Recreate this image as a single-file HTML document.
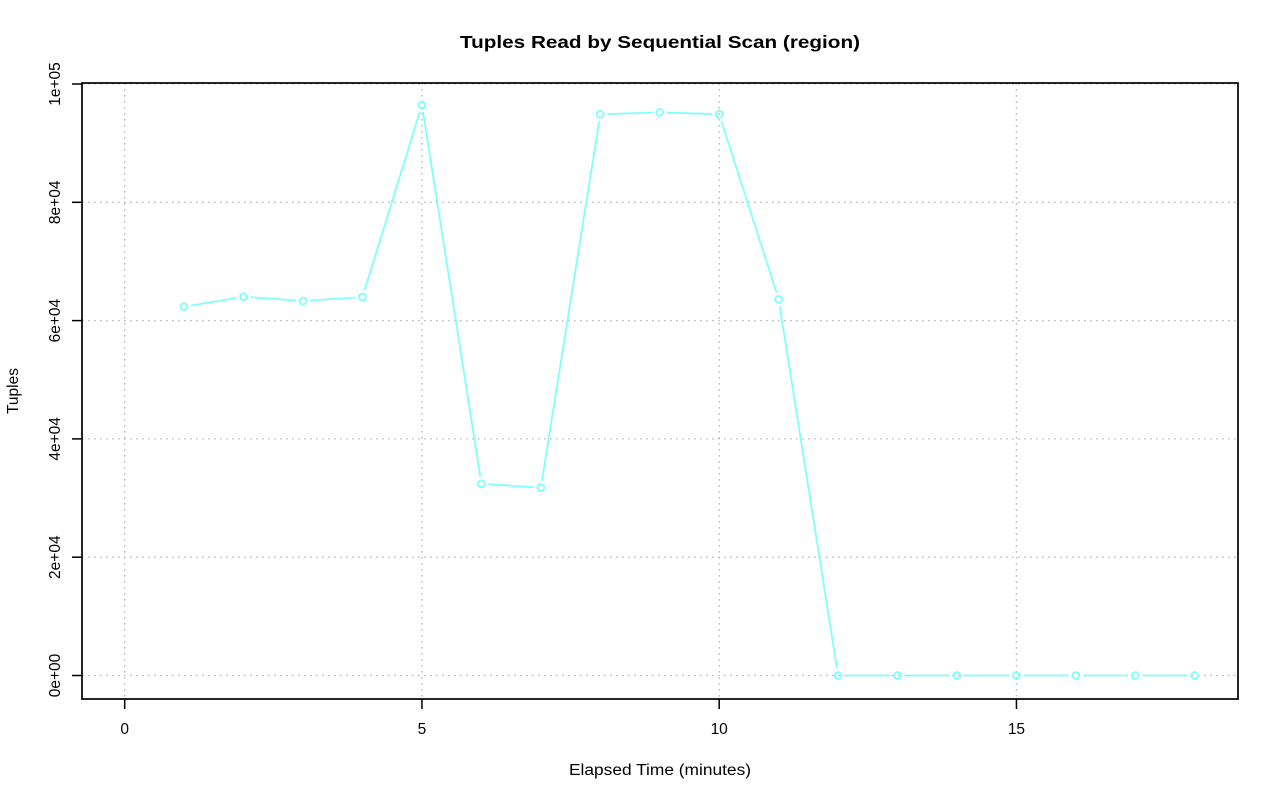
<!DOCTYPE html>
<html>
<head>
<meta charset="utf-8">
<style>
html,body{margin:0;padding:0;background:#fff;}
svg{display:block;}
text{font-family:"Liberation Sans",Arial,sans-serif;fill:#000;}
</style>
</head>
<body>
<svg width="1280" height="801" viewBox="0 0 1280 801" xmlns="http://www.w3.org/2000/svg">
<rect width="1280" height="801" fill="#fff"/>
<!-- title -->
<text x="660" y="48" text-anchor="middle" font-size="17.5" font-weight="bold" textLength="400" lengthAdjust="spacingAndGlyphs">Tuples Read by Sequential Scan (region)</text>

<!-- grid -->
<g stroke="#b8b8b8" stroke-width="1.3" stroke-dasharray="1.6 4.4" fill="none">
<line x1="124.7" y1="83" x2="124.7" y2="699"/>
<line x1="421.95" y1="83" x2="421.95" y2="699"/>
<line x1="719.2" y1="83" x2="719.2" y2="699"/>
<line x1="1016.45" y1="83" x2="1016.45" y2="699"/>
<line x1="82" y1="675.5" x2="1238" y2="675.5"/>
<line x1="82" y1="557.2" x2="1238" y2="557.2"/>
<line x1="82" y1="438.9" x2="1238" y2="438.9"/>
<line x1="82" y1="320.6" x2="1238" y2="320.6"/>
<line x1="82" y1="202.3" x2="1238" y2="202.3"/>
<line x1="82" y1="84" x2="1238" y2="84"/>
</g>

<!-- series lines -->
<g stroke="#80ffff" stroke-width="1.8" fill="none" stroke-linecap="butt">
<line x1="191.05" y1="305.54" x2="236.7" y2="297.86"/>
<line x1="250.58" y1="297.2" x2="296.07" y2="300.5"/>
<line x1="310.03" y1="300.53" x2="355.52" y2="297.47"/>
<line x1="364.57" y1="290.31" x2="419.88" y2="111.69"/>
<line x1="423.04" y1="111.92" x2="480.31" y2="476.78"/>
<line x1="488.38" y1="484.17" x2="533.87" y2="487.23"/>
<line x1="541.95" y1="480.79" x2="599.2" y2="121.21"/>
<line x1="607.3" y1="114.06" x2="652.75" y2="112.54"/>
<line x1="666.75" y1="112.54" x2="712.2" y2="114.06"/>
<line x1="721.34" y1="120.96" x2="776.51" y2="292.64"/>
<line x1="779.74" y1="306.21" x2="837.01" y2="668.59"/>
<line x1="845.1" y1="675.5" x2="890.55" y2="675.5"/>
<line x1="904.55" y1="675.5" x2="950" y2="675.5"/>
<line x1="964" y1="675.5" x2="1009.45" y2="675.5"/>
<line x1="1023.45" y1="675.5" x2="1068.9" y2="675.5"/>
<line x1="1082.9" y1="675.5" x2="1128.35" y2="675.5"/>
<line x1="1142.35" y1="675.5" x2="1187.8" y2="675.5"/>
</g>
<g stroke="#80ffff" stroke-width="1.9" fill="none">
<circle cx="184.15" cy="306.7" r="3.4"/>
<circle cx="243.6" cy="296.7" r="3.4"/>
<circle cx="303.05" cy="301" r="3.4"/>
<circle cx="362.5" cy="297" r="3.4"/>
<circle cx="421.95" cy="105" r="3.4"/>
<circle cx="481.4" cy="483.7" r="3.4"/>
<circle cx="540.85" cy="487.7" r="3.4"/>
<circle cx="600.3" cy="114.3" r="3.4"/>
<circle cx="659.75" cy="112.3" r="3.4"/>
<circle cx="719.2" cy="114.3" r="3.4"/>
<circle cx="778.65" cy="299.3" r="3.4"/>
<circle cx="838.1" cy="675.5" r="3.4"/>
<circle cx="897.55" cy="675.5" r="3.4"/>
<circle cx="957" cy="675.5" r="3.4"/>
<circle cx="1016.45" cy="675.5" r="3.4"/>
<circle cx="1075.9" cy="675.5" r="3.4"/>
<circle cx="1135.35" cy="675.5" r="3.4"/>
<circle cx="1194.8" cy="675.5" r="3.4"/>
</g>

<!-- box -->
<rect x="82" y="83" width="1156" height="616" fill="none" stroke="#000" stroke-width="1.7"/>

<!-- ticks -->
<g stroke="#000" stroke-width="1.5">
<line x1="124.7" y1="699" x2="124.7" y2="709"/>
<line x1="421.95" y1="699" x2="421.95" y2="709"/>
<line x1="719.2" y1="699" x2="719.2" y2="709"/>
<line x1="1016.45" y1="699" x2="1016.45" y2="709"/>
<line x1="72" y1="675.5" x2="82" y2="675.5"/>
<line x1="72" y1="557.2" x2="82" y2="557.2"/>
<line x1="72" y1="438.9" x2="82" y2="438.9"/>
<line x1="72" y1="320.6" x2="82" y2="320.6"/>
<line x1="72" y1="202.3" x2="82" y2="202.3"/>
<line x1="72" y1="84" x2="82" y2="84"/>
</g>

<!-- x tick labels -->
<g font-size="15.5" text-anchor="middle">
<text x="124.7" y="734">0</text>
<text x="421.95" y="734">5</text>
<text x="719.2" y="734">10</text>
<text x="1016.45" y="734">15</text>
</g>

<!-- y tick labels -->
<g font-size="15.5" text-anchor="middle">
<text transform="translate(60,675.5) rotate(-90)">0e+00</text>
<text transform="translate(60,557.2) rotate(-90)">2e+04</text>
<text transform="translate(60,438.9) rotate(-90)">4e+04</text>
<text transform="translate(60,320.6) rotate(-90)">6e+04</text>
<text transform="translate(60,202.3) rotate(-90)">8e+04</text>
<text transform="translate(60,84) rotate(-90)">1e+05</text>
</g>

<!-- axis labels -->
<text x="660" y="775" text-anchor="middle" font-size="15.5" textLength="182" lengthAdjust="spacingAndGlyphs">Elapsed Time (minutes)</text>
<text transform="translate(18,391) rotate(-90)" text-anchor="middle" font-size="15.5">Tuples</text>
</svg>
</body>
</html>
